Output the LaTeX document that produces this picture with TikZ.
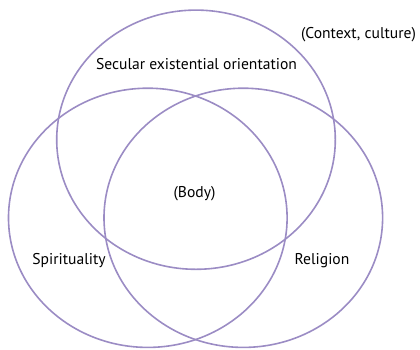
\documentclass[tikz,border=0pt]{standalone}
\usepackage{fontspec}
\setmainfont{PT Sans}
\definecolor{vennline}{RGB}{155,140,196}
\begin{document}
\begin{tikzpicture}[x=1pt, y=-1pt, lbl/.style={inner sep=0pt, font=\fontsize{15.6}{18}\selectfont}]
      \def\rx{139.3}
      \def\ry{129.6}
      \useasboundingbox (0,0) rectangle (420,349);
      \coordinate (T) at (196, 139.7);
      \coordinate (L) at (147.8, 217.8);
      \coordinate (R) at (243.3, 217.8);
      \draw[line width=1.6pt, color=vennline] (T) ellipse ({\rx} and {\ry});
      \draw[line width=1.6pt, color=vennline] (L) ellipse ({\rx} and {\ry});
      \draw[line width=1.6pt, color=vennline] (R) ellipse ({\rx} and {\ry});
      \node[lbl] (context) at (358.5, 35) {(Context, culture)};
      \node[lbl] (secular) at (196.5, 64.5) {Secular existential orientation};
      \node[lbl] (body) at (194.5, 194) {(Body)};
      \node[lbl] (spirit) at (69, 261) {Spirituality};
      \node[lbl] (religion) at (322, 261) {Religion};
    \end{tikzpicture}
\end{document}
